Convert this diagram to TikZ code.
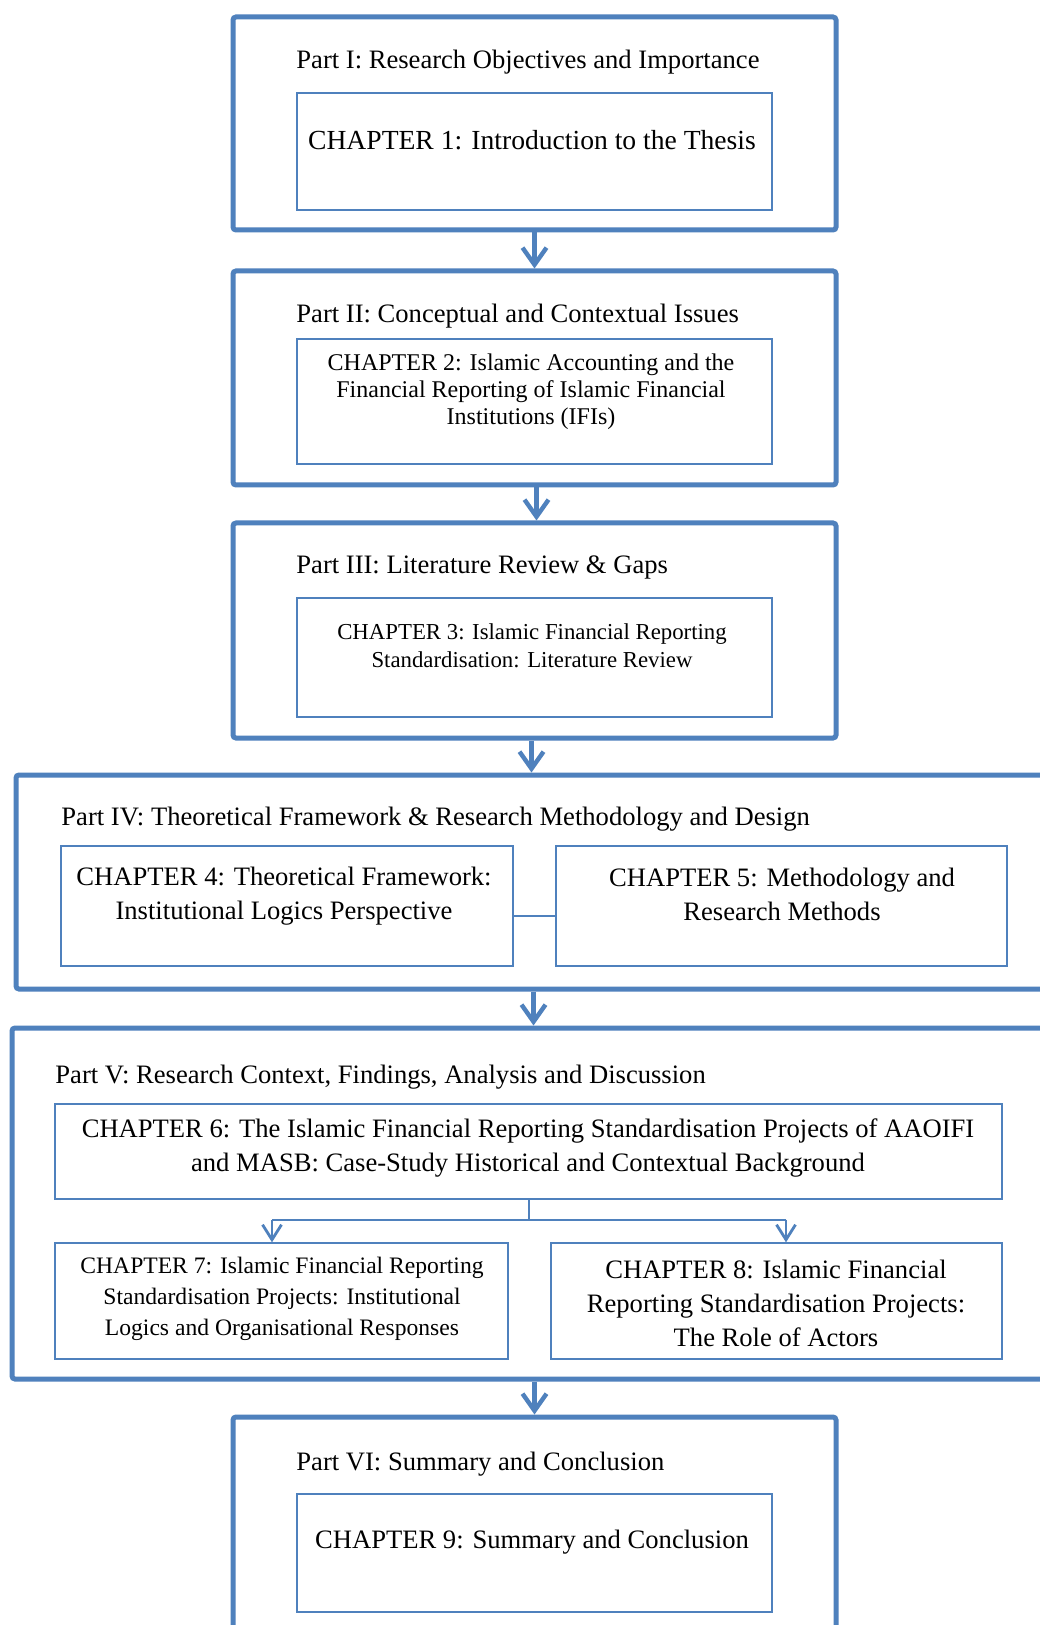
\documentclass[tikz,border=0pt]{standalone}
\usepackage{fontspec}
\setmainfont{Liberation Serif}
\usetikzlibrary{arrows.meta,fit,calc}
\definecolor{frameblue}{RGB}{79,129,189}
\tikzset{
  partbox/.style={draw=frameblue, line width=2.5pt, rounded corners=1.5pt, inner sep=0pt},
  chapbox/.style={draw=frameblue, line width=0.7pt, inner sep=0pt},
  parttitle/.style={anchor=west, inner sep=0pt, font=\fontsize{13.3}{16}\selectfont},
  chaptext/.style={align=center, inner sep=0pt, font=\fontsize{13.3}{17}\selectfont},
  flow/.style={draw=frameblue, line width=2.2pt, -{Straight Barb[length=8.5pt,width=12pt]}},
  branch/.style={draw=frameblue, line width=1pt},
  branchtip/.style={draw=frameblue, line width=1.4pt, -{Straight Barb[length=7.5pt,width=9.5pt]}},
  joinline/.style={draw=frameblue, line width=0.7pt}
}
\begin{document}
\begin{tikzpicture}[x=0.5pt,y=-0.5pt]
  \fill[white] (0,0) rectangle (1039,1625);
  \useasboundingbox (0,0) rectangle (1039,1625);

  % Part frames
  \node[partbox, fit={(233,17) (836,230)}] (p1) {};
  \node[partbox, fit={(233,271) (836,485)}] (p2) {};
  \node[partbox, fit={(233,523) (836,738)}] (p3) {};
  \node[partbox, fit={(16,775) (1060,989)}] (p4) {};
  \node[partbox, fit={(12,1028) (1060,1379)}] (p5) {};
  \node[partbox, fit={(233,1417) (836,1660)}] (p6) {};

  % Part titles
  \node[parttitle] (t1) at (296,62) {Part I: Research Objectives and Importance};
  \node[parttitle] (t2) at (296,316) {Part II: Conceptual and Contextual Issues};
  \node[parttitle] (t3) at (296,567) {Part III: Literature Review \& Gaps};
  \node[parttitle] (t4) at (61,819) {Part IV: Theoretical Framework \& Research Methodology and Design};
  \node[parttitle] (t5) at (55,1077) {Part V: Research Context, Findings, Analysis and Discussion};
  \node[parttitle] (t6) at (296,1464) {Part VI: Summary and Conclusion};

  % Chapter boxes
  \node[chapbox, fit={(297,93) (772,210)}] (c1) {};
  \node[chapbox, fit={(297,339) (772,464)}] (c2) {};
  \node[chapbox, fit={(297,598) (772,717)}] (c3) {};
  \node[chapbox, fit={(61,846) (513,966)}] (c4) {};
  \node[chapbox, fit={(556,846) (1007,966)}] (c5) {};
  \node[chapbox, fit={(55,1104) (1002,1199)}] (c6) {};
  \node[chapbox, fit={(55,1243) (508,1359)}] (c7) {};
  \node[chapbox, fit={(551,1243) (1002,1359)}] (c8) {};
  \node[chapbox, fit={(297,1494) (772,1612)}] (c9) {};

  % Chapter texts
  \node[chaptext, font=\fontsize{13.8}{17}\selectfont] (x1) at (532,140) {CHAPTER 1: Introduction to the Thesis};
  \node[chaptext, font=\fontsize{12}{13.5}\selectfont] (x2) at (531,392) {CHAPTER 2: Islamic Accounting and the\\Financial Reporting of Islamic Financial\\Institutions (IFIs)};
  \node[chaptext, font=\fontsize{11.4}{14}\selectfont] (x3) at (532,646) {CHAPTER 3: Islamic Financial Reporting\\Standardisation: Literature Review};
  \node[chaptext] (x4) at (284,896) {CHAPTER 4: Theoretical Framework:\\Institutional Logics Perspective};
  \node[chaptext] (x5) at (782,894) {CHAPTER 5: Methodology and\\Research Methods};
  \node[chaptext] (x6) at (528,1148) {CHAPTER 6: The Islamic Financial Reporting Standardisation Projects of AAOIFI\\and MASB: Case-Study Historical and Contextual Background};
  \node[chaptext, font=\fontsize{11.8}{15.5}\selectfont] (x7) at (282,1299) {CHAPTER 7: Islamic Financial Reporting\\Standardisation Projects: Institutional\\Logics and Organisational Responses};
  \node[chaptext] (x8) at (776,1303) {CHAPTER 8: Islamic Financial\\Reporting Standardisation Projects:\\The Role of Actors};
  \node[chaptext] (x9) at (532,1542) {CHAPTER 9: Summary and Conclusion};

  % Flow between parts
  \draw[flow] (p1.south) -- (p1.south |- p2.north);
  \draw[flow] ([xshift=1pt]p2.south) -- ([xshift=1pt]p3.north);
  \draw[flow] ([xshift=-1.5pt]p3.south) -- ([xshift=-1.5pt]p3.south |- p4.north);
  \coordinate (a4) at ($(p3.south)+(-1,0)$);
  \draw[flow] (a4 |- p4.south) -- (a4 |- p5.north);
  \draw[flow] (p6.north |- p5.south) -- (p6.north);

  % Link between chapters 4 and 5
  \draw[joinline] ([yshift=-5pt]c4.east) -- ([yshift=-5pt]c5.west);

  % Branch from chapter 6 to chapters 7 and 8
  \coordinate (bj) at ($(c6.south)+(0,20)$);
  \coordinate (bl) at (272,0);
  \coordinate (br) at (786,0);
  \draw[branch] (c6.south) -- (bj);
  \draw[branch] (bl |- bj) -- (br |- bj);
  \draw[branchtip] (bl |- bj) -- (bl |- c7.north);
  \draw[branchtip] (br |- bj) -- (br |- c8.north);
\end{tikzpicture}
\end{document}
